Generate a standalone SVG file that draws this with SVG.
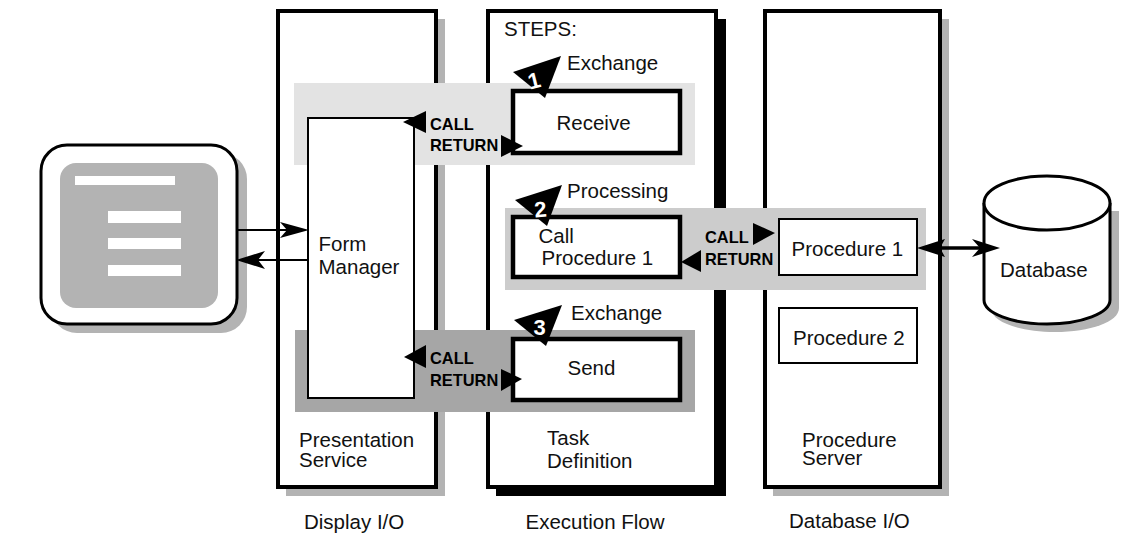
<svg xmlns="http://www.w3.org/2000/svg" width="1122" height="534" viewBox="0 0 1122 534">
<style>
text{font-family:"Liberation Sans",Arial,sans-serif;font-size:20.5px;fill:#111}
.b{font-weight:bold;font-size:16.4px;fill:#000}
.n{font-weight:bold;font-size:22px;fill:#fff;text-anchor:middle}
.col{fill:#fff;stroke:#000;stroke-width:4}
.box{fill:#fff;stroke:#000;stroke-width:4.5}
.thin{fill:#fff;stroke:#000;stroke-width:2}
.bar{fill:#fff}
.line{fill:none;stroke:#000;stroke-width:2}
.dbl{fill:none;stroke:#000;stroke-width:3.5}
.sh{fill:#b3b3b3}
</style>
<rect width="1122" height="534" fill="#fff"/>
<g id="terminal">
<rect class="sh" x="51" y="153" width="196" height="180" rx="26"/>
<rect x="41" y="145" width="196" height="179" rx="26" fill="#fff" stroke="#000" stroke-width="3"/>
<rect class="sh" x="60" y="163" width="158" height="145" rx="16"/>
<rect class="bar" x="75" y="176" width="100" height="9"/>
<rect class="bar" x="108" y="211" width="73" height="12"/>
<rect class="bar" x="108" y="238" width="73" height="11"/>
<rect class="bar" x="108" y="265" width="73" height="11"/>
</g>
<g id="presentation-service">
<rect class="sh" x="286" y="19" width="159" height="477"/>
<rect class="col" x="278" y="11" width="158" height="476"/>
<text x="299" y="447">Presentation</text>
<text x="299" y="467">Service</text>
<text x="304" y="529">Display I/O</text>
</g>
<g id="task-definition">
<rect x="496" y="19" width="230" height="477" fill="#000"/>
<rect class="col" x="488" y="11" width="228" height="476"/>
<text x="504" y="36">STEPS:</text>
<text x="547" y="445">Task</text>
<text x="547" y="468">Definition</text>
<text x="525.500" y="529">Execution Flow</text>
</g>
<g id="procedure-server">
<rect class="sh" x="773" y="19" width="176" height="477"/>
<rect class="col" x="765" y="11" width="175" height="476"/>
<text x="802" y="447">Procedure</text>
<text x="802" y="465">Server</text>
<text x="789" y="528">Database I/O</text>
</g>
<g id="bands">
<rect x="294" y="83" width="401" height="82" fill="#e3e3e3"/>
<rect x="505" y="208" width="421" height="82" fill="#cccccc"/>
<rect x="295" y="330" width="400" height="82" fill="#a6a6a6"/>
</g>
<g id="form-manager">
<rect class="thin" x="308" y="118" width="106" height="280"/>
<text x="318.500" y="251">Form</text>
<text x="318.500" y="274">Manager</text>
</g>
<g id="receive">
<rect class="box" x="513" y="91" width="167" height="62"/>
<text x="556.500" y="130">Receive</text>
</g>
<g id="call-procedure">
<rect class="box" x="513" y="217" width="167" height="60"/>
<text x="538.500" y="243">Call</text>
<text x="541.500" y="265">Procedure 1</text>
</g>
<g id="send">
<rect class="box" x="513" y="339" width="167" height="61"/>
<text x="567.500" y="375">Send</text>
</g>
<g id="procedure-1">
<rect class="thin" x="779" y="219" width="138" height="56"/>
<text x="791.500" y="256">Procedure 1</text>
</g>
<g id="procedure-2">
<rect class="thin" x="779" y="308" width="138" height="55"/>
<text x="793" y="345">Procedure 2</text>
</g>
<g id="database">
<path class="sh" d="M991 211V308C991 322 1020 332 1055 332S1119 322 1119 308V211Z"/>
<path d="M984 203V300C984 313 1012 324 1047 324S1110 313 1110 300V203" fill="#fff" stroke="#000" stroke-width="3"/>
<ellipse cx="1047" cy="203" rx="63" ry="27" fill="#fff" stroke="#000" stroke-width="3"/>
<text x="1000" y="277">Database</text>
</g>
<g id="connectors">
<path class="line" d="M237 230H300M308 260H245"/>
<path d="M309 230L280 222L287 230L280 238Z"/>
<path d="M236 260L265 251L258 260L265 269Z"/>
<path class="dbl" d="M925 248H992"/>
<path d="M917 248L945 239L940 248L945 257Z"/>
<path d="M1000 248L972 239L980 248L972 257Z"/>
<path d="M403 122L426 111V133Z"/>
<path d="M523 146L501 135V157Z"/>
<path d="M775 233L753 223V245Z"/>
<path d="M681 262L701 250V272Z"/>
<path d="M404 357L426 345V368Z"/>
<path d="M522 379L501 369V391Z"/>
<text class="b" x="430" y="130">CALL</text>
<text class="b" x="430" y="151">RETURN</text>
<text class="b" x="705" y="243">CALL</text>
<text class="b" x="705" y="265">RETURN</text>
<text class="b" x="430" y="364">CALL</text>
<text class="b" x="430" y="386">RETURN</text>
</g>
<g id="step-1">
<path d="M513 72L561 56L545 98Z"/>
<text class="n" transform="translate(536 88) rotate(-14)">1</text>
<text x="567" y="70">Exchange</text>
</g>
<g id="step-2">
<path d="M515 200L562 185L547 226Z"/>
<text class="n" transform="translate(541 217) rotate(-5)">2</text>
<text x="567" y="198">Processing</text>
</g>
<g id="step-3">
<path d="M514 320L562 305L546 346Z"/>
<text class="n" x="539.500" y="335">3</text>
<text x="571" y="320">Exchange</text>
</g>
</svg>
